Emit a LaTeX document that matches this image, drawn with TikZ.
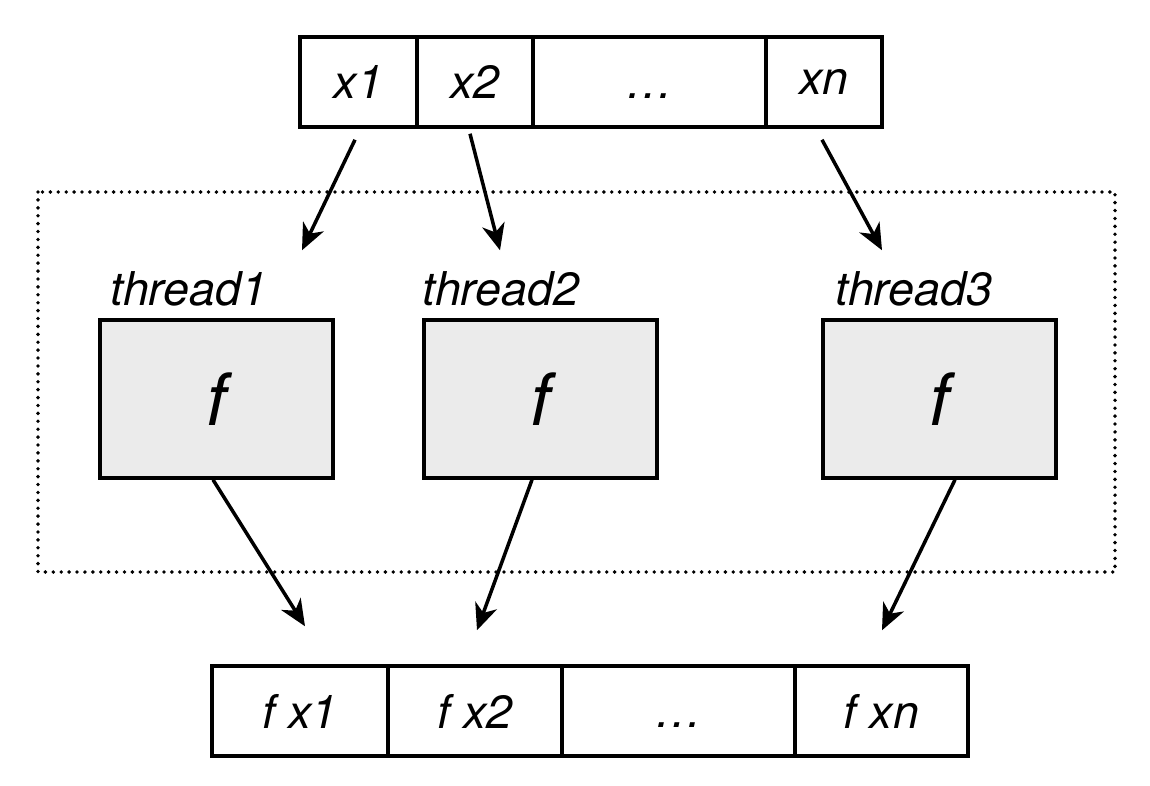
\documentclass[tikz,border=0pt]{standalone}
\usepackage{fontspec}
\setmainfont{TeX Gyre Heros}
\usetikzlibrary{arrows.meta}

\begin{document}
\begin{tikzpicture}[x=0.02cm, y=-0.02cm, >={Stealth[length=15pt, width=13pt, inset=4.5pt]}, line width=2pt]
            \tikzset{
                cell/.style={draw, minimum height=1.8cm, inner sep=0pt, font=\fontsize{26.5}{30}\selectfont\itshape},
                worker/.style={draw, fill=workergray, minimum width=4.66cm, minimum height=3.16cm, inner sep=0pt, font=\fontsize{41}{46}\selectfont\itshape},
                threadlabel/.style={anchor=base west, inner sep=0pt, font=\fontsize{26.5}{30}\selectfont\itshape},
                flow/.style={->, line width=2pt}
            }
            \definecolor{workergray}{HTML}{EBEBEB}
            \useasboundingbox (0, 0) rectangle (1150, 785);

            % thread pool
            \draw[line width=2.2pt, line cap=round, dash pattern=on 0pt off 4.5pt] (38, 192) rectangle (1115, 572);

            % input list
            \node[cell, minimum width=2.34cm] (x1) at (358.5, 82) {x1};
            \node[cell, minimum width=2.32cm] (x2) at (475, 82) {x2};
            \node[cell, minimum width=4.66cm, text depth=0pt, text height=19pt] (xdots) at (649.5, 82) {\ldots};
            \node[cell, minimum width=2.32cm] (xn) at (824, 82) {xn};

            % threads
            \node[worker] (t1) at (216.5, 399) {f};
            \node[worker] (t2) at (540.5, 399) {f};
            \node[worker] (t3) at (939.5, 399) {f};
            \node[threadlabel] (l1) at (109, 305) {thread1};
            \node[threadlabel] (l2) at (421, 305) {thread2};
            \node[threadlabel] (l3) at (834, 305) {thread3};

            % output list
            \node[cell, minimum width=3.52cm] (fx1) at (300, 711) {f x1};
            \node[cell, minimum width=3.48cm] (fx2) at (475, 711) {f x2};
            \node[cell, minimum width=4.66cm, text depth=0pt, text height=19pt] (fdots) at (678.5, 711) {\ldots};
            \node[cell, minimum width=3.46cm] (fxn) at (881.5, 711) {f xn};

            \draw[flow] ([shift={(-3.5, 11)}]x1.south) -- ([shift={(85.5, -68)}]t1.north);
            \draw[flow] ([shift={(-5, 5)}]x2.south) -- ([shift={(-40.5, -68)}]t2.north);
            \draw[flow] ([shift={(-2, 11)}]xn.south) -- ([shift={(-57.5, -68)}]t3.north);

            \draw[flow] ([shift={(-3.5, 0)}]t1.south) -- ([shift={(5, -38)}]fx1.north);
            \draw[flow] ([shift={(-8.5, 0)}]t2.south) -- ([shift={(2, -34)}]fx2.north);
            \draw[flow] ([shift={(15.5, 0)}]t3.south) -- ([shift={(0.5, -34)}]fxn.north);
        \end{tikzpicture}
\end{document}
